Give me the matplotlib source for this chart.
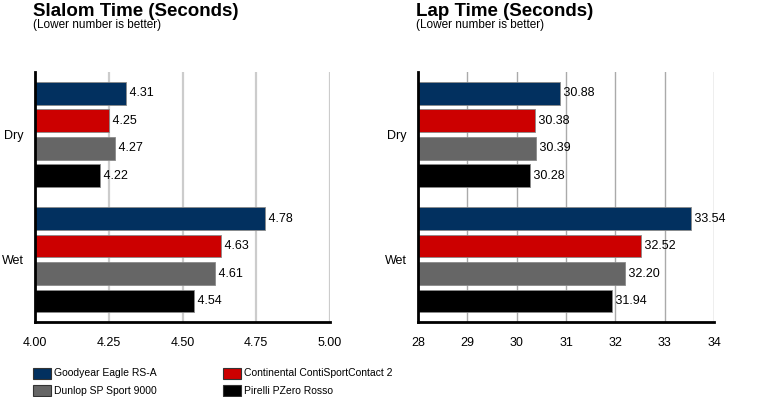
import matplotlib.pyplot as plt
from matplotlib.patches import Rectangle

conditions = ["Dry", "Wet"]
tires = ["Goodyear Eagle RS-A", "Continental ContiSportContact 2",
         "Dunlop SP Sport 9000", "Pirelli PZero Rosso"]
colors = ["#02305f", "#cc0000", "#666666", "#000000"]

slalom = {
    "Dry": [4.31, 4.25, 4.27, 4.22],
    "Wet": [4.78, 4.63, 4.61, 4.54],
}
lap = {
    "Dry": [30.88, 30.38, 30.39, 30.28],
    "Wet": [33.54, 32.52, 32.20, 31.94],
}
slalom_ticks = [4.00, 4.25, 4.50, 4.75, 5.00]
lap_ticks = [28, 29, 30, 31, 32, 33, 34]

plt.rcParams['font.family'] = ['Liberation Sans', 'DejaVu Sans']

fig = plt.figure(figsize=(7.6, 3.97), dpi=100)

group_gap = 4.55
panels = [
    ("Slalom Time (Seconds)", slalom, slalom_ticks, "{:.2f}", "{:.2f}",
     [35 / 760, 0.189, 295 / 760, 0.630], "#cccccc", 1.6),
    ("Lap Time (Seconds)", lap, lap_ticks, "{:.0f}", "{:.2f}",
     [418 / 760, 0.189, 296 / 760, 0.630], "#aaaaaa", 1.0),
]

for title, data, ticks, tfmt, vfmt, rect, gcol, gw in panels:
    ax = fig.add_axes(rect)
    for g, cond in enumerate(conditions):
        for i, v in enumerate(data[cond]):
            y = g * group_gap + i
            ax.barh(y, v - ticks[0], left=ticks[0], height=0.83,
                    color=colors[i], edgecolor="#8a8a8a", linewidth=0.6,
                    zorder=3)
            ax.text(v, y, " " + vfmt.format(v), va="center", ha="left",
                    fontsize=9, zorder=4)
    ax.set_xlim(ticks[0], ticks[-1])
    ax.set_ylim(8.31, -0.78)
    ax.set_xticks(ticks)
    ax.set_xticklabels([tfmt.format(t) for t in ticks], fontsize=9)
    ax.set_yticks([1.5, group_gap + 1.5])
    ax.set_yticklabels(conditions, fontsize=9)
    ax.tick_params(axis="both", length=0)
    ax.tick_params(axis="x", pad=11)
    ax.tick_params(axis="y", pad=8)
    ax.grid(axis="x", color=gcol, linewidth=gw, zorder=0)
    for s in ["top", "right"]:
        ax.spines[s].set_visible(False)
    for s in ["left", "bottom"]:
        ax.spines[s].set_linewidth(2)
        ax.spines[s].set_color("black")
        ax.spines[s].set_zorder(5)
    x0 = rect[0] - 2 / 760
    fig.text(x0, 1 - 11 / 397, title, fontsize=13.5, fontweight="bold",
             va="center", ha="left")
    fig.text(x0, 1 - 25 / 397, "(Lower number is better)", fontsize=8.5,
             va="center", ha="left")

# legend drawn manually in two columns
order = [(0, 0), (0, 1), (1, 0), (1, 1)]
for (row, col), name, c in zip(order, tires, colors):
    px = (33 + col * 190) / 760
    py = 1 - (379 + row * 17) / 397
    fig.patches.append(Rectangle((px, py), 18 / 760, 11 / 397,
                                 transform=fig.transFigure,
                                 facecolor=c, edgecolor="#333333",
                                 linewidth=0.8))
    fig.text(px + 21 / 760, py + 5.5 / 397, name, fontsize=7.5,
             va="center", ha="left")

fig.savefig("out.png", dpi=100)
